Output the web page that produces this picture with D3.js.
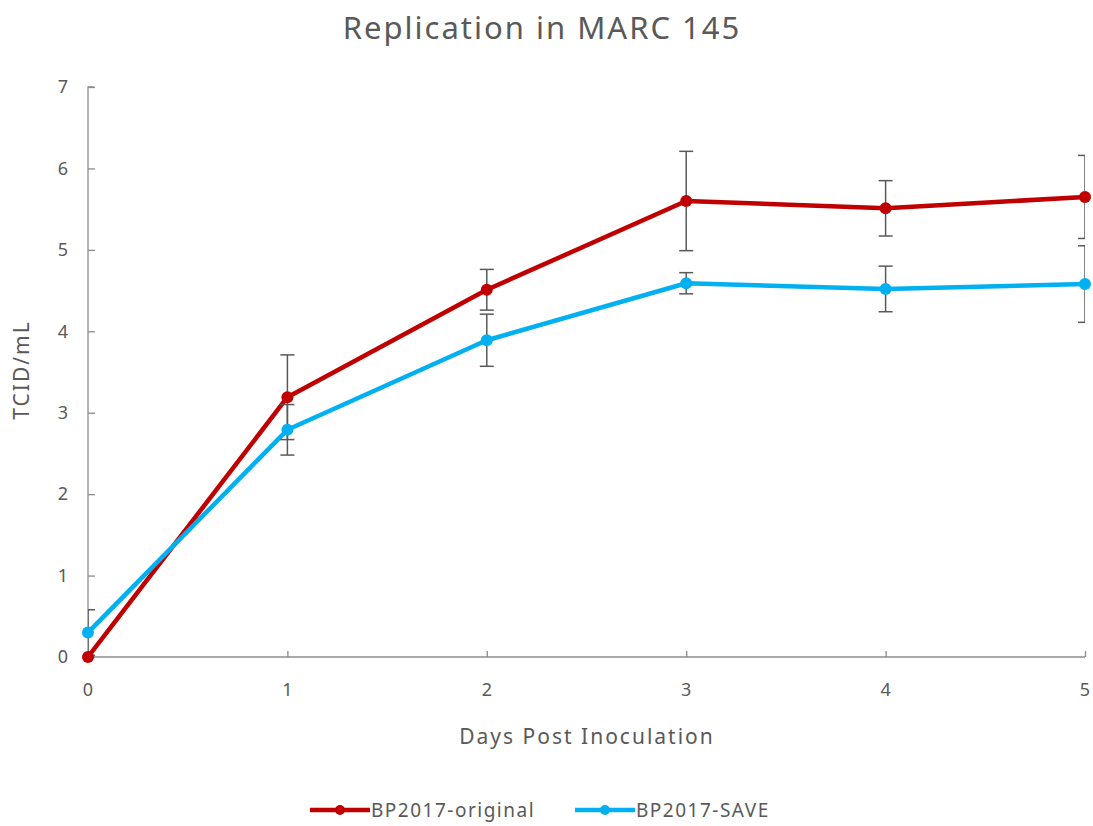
<!DOCTYPE html>
<html>
<head>
<meta charset="utf-8">
<script src="https://cdn.jsdelivr.net/npm/d3@7"></script>
<style>
  body { margin: 0; background: #fff; }
  text { font-family: "Noto Sans", "Open Sans", sans-serif; fill: #595959; }
</style>
</head>
<body>
<div id="chart"></div>
<script>
// data
const days = [0, 1, 2, 3, 4, 5];
const originalVals = [0, 3.19, 4.51, 5.60, 5.51, 5.65];
const originalErr = [0, 0.52, 0.25, 0.61, 0.34, 0.51];
const saveVals = [0.30, 2.79, 3.89, 4.59, 4.52, 4.58];
const saveErr = [0.28, 0.31, 0.32, 0.13, 0.28, 0.47];
const yTicks = [0, 1, 2, 3, 4, 5, 6, 7];

const series = [
  { name: "BP2017-original", color: "#C00000", vals: originalVals, err: originalErr },
  { name: "BP2017-SAVE", color: "#00B0F0", vals: saveVals, err: saveErr }
];

const W = 1093, H = 826;
const margin = { top: 87, right: 8, bottom: 169, left: 88 };
const w = W - margin.left - margin.right;
const h = H - margin.top - margin.bottom;

const svg = d3.select("#chart").append("svg")
  .attr("width", W).attr("height", H);

const g = svg.append("g")
  .attr("transform", `translate(${margin.left},${margin.top})`);

const x = d3.scaleLinear().domain([0, 5]).range([0, w]);
const y = d3.scaleLinear().domain([0, 7]).range([h, 0]);

// clip so error caps stop at the plot edges
svg.append("defs").append("clipPath").attr("id", "plot")
  .append("rect").attr("x", 0).attr("y", -20).attr("width", w).attr("height", h + 40);

// y axis (ticks point inward)
const yAxis = g.append("g")
  .call(d3.axisRight(y).tickValues(yTicks).tickSize(7).tickFormat(""));
yAxis.select(".domain").attr("stroke", "#8c8c8c").attr("stroke-width", 1.3)
  .attr("d", `M0,${h}V0H6`);
yAxis.selectAll(".tick line").attr("stroke", "#8c8c8c").attr("stroke-width", 1.3);

g.selectAll(".ylab").data(yTicks).enter().append("text")
  .attr("x", -20).attr("y", (d) => y(d)).attr("dy", "0.35em")
  .attr("text-anchor", "end").style("font-size", "18px")
  .text((d) => d);

// x axis (ticks point up)
const xAxis = g.append("g").attr("transform", `translate(0,${h})`)
  .call(d3.axisTop(x).tickValues(days).tickSize(6).tickFormat(""));
xAxis.select(".domain").attr("stroke", "#8c8c8c").attr("stroke-width", 1.3)
  .attr("d", `M0,0H${w}`);
xAxis.selectAll(".tick line").attr("stroke", "#8c8c8c").attr("stroke-width", 1.3);

g.selectAll(".xlab").data(days).enter().append("text")
  .attr("x", (d) => x(d)).attr("y", h + 39)
  .attr("text-anchor", "middle").style("font-size", "18px")
  .text((d) => d);

// titles
svg.append("text").attr("x", 542).attr("y", 39)
  .attr("text-anchor", "middle").style("font-size", "31px")
  .style("letter-spacing", "2px")
  .text("Replication in MARC 145");

svg.append("text").attr("x", 587).attr("y", 744)
  .attr("text-anchor", "middle").style("font-size", "21px")
  .style("letter-spacing", "2px")
  .text("Days Post Inoculation");

svg.append("text")
  .attr("transform", `translate(29,${margin.top + h / 2 - 2}) rotate(-90)`)
  .attr("text-anchor", "middle").style("font-size", "21px")
  .style("letter-spacing", "2px")
  .text("TCID/mL");

// lines, markers, error bars
const line = d3.line().x((d, i) => x(days[i])).y((d) => y(d));
const plot = g.append("g").attr("clip-path", "url(#plot)");

series.forEach((s) => {
  plot.append("path").datum(s.vals)
    .attr("d", line).attr("fill", "none")
    .attr("stroke", s.color).attr("stroke-width", 4.5)
    .attr("stroke-linejoin", "round");
});

series.forEach((s) => {
  const eb = plot.append("g");
  s.vals.forEach((v, i) => {
    if (!s.err[i]) return;
    const cx = x(days[i]);
    const y1 = y(v + s.err[i]), y2 = y(v - s.err[i]);
    eb.append("line").attr("x1", cx).attr("x2", cx).attr("y1", y1).attr("y2", y2)
      .attr("stroke", "#595959").attr("stroke-width", 1.5);
    [y1, y2].forEach((yy) => {
      eb.append("line").attr("x1", cx - 7).attr("x2", cx + 7).attr("y1", yy).attr("y2", yy)
        .attr("stroke", "#595959").attr("stroke-width", 1.5);
    });
  });
});

series.forEach((s) => {
  g.selectAll(null).data(s.vals).enter().append("circle")
    .attr("cx", (d, i) => x(days[i])).attr("cy", (d) => y(d))
    .attr("r", 6).attr("fill", s.color);
});

// legend
const legendX = [310, 575];
series.forEach((s, i) => {
  const lg = svg.append("g").attr("transform", `translate(${legendX[i]},810)`);
  lg.append("line").attr("x1", 0).attr("x2", 60).attr("y1", 0).attr("y2", 0)
    .attr("stroke", s.color).attr("stroke-width", 4.5);
  lg.append("circle").attr("cx", 30).attr("cy", 0).attr("r", 5).attr("fill", s.color);
  lg.append("text").attr("x", 61).attr("y", 0).attr("dy", "0.35em")
    .style("font-size", "19px").style("letter-spacing", "1.5px").text(s.name);
});
</script>
</body>
</html>
